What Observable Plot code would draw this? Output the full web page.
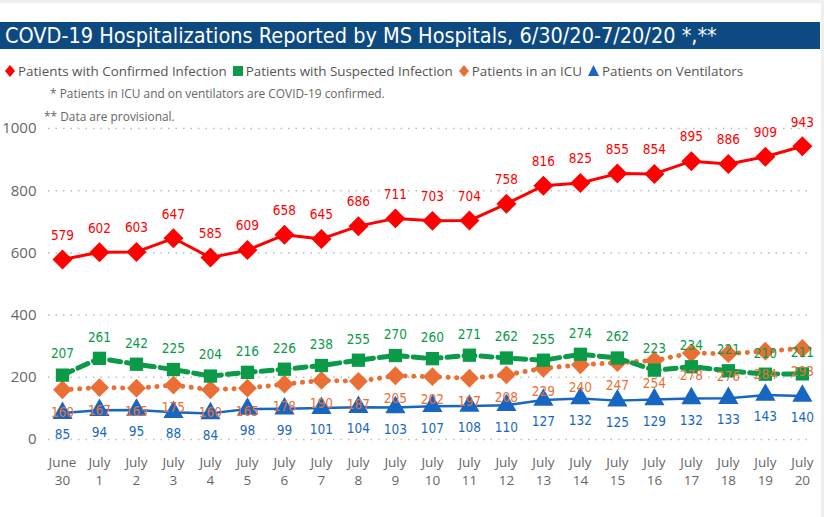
<!DOCTYPE html>
<html>
<head>
<meta charset="utf-8">
<script src="https://cdn.jsdelivr.net/npm/d3@7"></script>
<script src="https://cdn.jsdelivr.net/npm/@observablehq/plot@0.6"></script>
<style>
  body { margin: 0; background: #fff; }
  #wrap { position: relative; width: 824px; height: 517px; overflow: hidden; background: #fff; }
  #topstripe { position: absolute; left: 0; top: 0; width: 824px; height: 3px; background: #efefef; }
  #rightstripe { position: absolute; right: 0; top: 0; width: 3px; height: 517px; background: #efefef; }
  #title { position: absolute; left: 0; top: 22px; width: 820px; height: 27px; background: #0d4a82;
           color: #fff; font-family: "DejaVu Sans Condensed", "DejaVu Sans", sans-serif; font-size: 21.5px;
           line-height: 27px; padding-left: 5px; box-sizing: border-box; white-space: nowrap; }
  #legend { position: absolute; left: 4px; top: 62px; font-family: "Open Sans", sans-serif; font-size: 13.4px;
            color: #555; white-space: nowrap; display: flex; align-items: center; }
  .item { display: flex; align-items: center; margin-right: 5px; }
  .item svg { margin-right: 2px; }
  .note { position: absolute; font-family: "Open Sans", sans-serif; font-size: 11.9px; color: #666; white-space: nowrap; }
  #chart { position: absolute; left: 0; top: 100px; }
</style>
</head>
<body>
<div id="wrap">
  <div id="topstripe"></div>
  <div id="rightstripe"></div>
  <div id="title">COVD-19 Hospitalizations Reported by MS Hospitals, 6/30/20-7/20/20 *,**</div>
  <div id="legend"></div>
  <div class="note" style="left:50px; top:85px;">* Patients in ICU and on ventilators are COVID-19 confirmed.</div>
  <div class="note" style="left:44px; top:108px;">** Data are provisional.</div>
  <div id="chart"></div>
</div>
<script>
const dates = ["June\n30","July\n1","July\n2","July\n3","July\n4","July\n5","July\n6","July\n7","July\n8","July\n9","July\n10",
               "July\n11","July\n12","July\n13","July\n14","July\n15","July\n16","July\n17","July\n18","July\n19","July\n20"];
const confirmed = [579,602,603,647,585,609,658,645,686,711,703,704,758,816,825,855,854,895,886,909,943];
const suspected = [207,261,242,225,204,216,226,238,255,270,260,271,262,255,274,262,223,234,221,210,211];
const icu       = [160,167,165,175,160,165,178,190,187,205,202,197,208,229,240,247,254,278,276,284,293];
const vent      = [85,94,95,88,84,98,99,101,104,103,107,108,110,127,132,125,129,132,133,143,140];
const yTicks = [0,200,400,600,800,1000];

const seriesNames = ["Patients with Confirmed Infection","Patients with Suspected Infection","Patients in an ICU","Patients on Ventilators"];
const colors = ["#ff0000","#0a9a48","#ea6f34","#1766c2"];

const toRows = vals => vals.map((v, i) => ({i, v}));
const rConf = toRows(confirmed), rSusp = toRows(suspected), rIcu = toRows(icu), rVent = toRows(vent);

// Legend
const legend = document.getElementById("legend");
const legendSym = [
  '<svg width="12" height="14"><path d="M6 1 L11 7 L6 13 L1 7 Z" fill="#ff0000"/></svg>',
  '<svg width="12" height="14"><rect x="1" y="2" width="10" height="10" fill="#0a9a48"/></svg>',
  '<svg width="12" height="14"><path d="M6 1 L11 7 L6 13 L1 7 Z" fill="#ea6f34"/></svg>',
  '<svg width="13" height="14"><path d="M6.5 1 L12 12 L1 12 Z" fill="#1766c2"/></svg>'
];
seriesNames.forEach((n, k) => {
  const d = document.createElement("div");
  d.className = "item";
  d.innerHTML = legendSym[k] + "<span>" + n + "</span>";
  legend.appendChild(d);
});

const labelFont = '"DejaVu Sans Condensed", "DejaVu Sans", sans-serif';

const chart = Plot.plot({
  width: 824,
  height: 417,
  marginLeft: 48,
  marginRight: 14,
  marginTop: 28,
  marginBottom: 78,
  style: { background: "transparent", overflow: "visible" },
  x: { domain: [-0.378, 20.22], axis: null },
  y: { domain: [0, 1000], axis: null },
  marks: [
    Plot.gridY(yTicks, { stroke: "#bbb", strokeOpacity: 1, strokeDasharray: "1.5,6", strokeWidth: 1.5 }),
    Plot.text(yTicks, { x: -0.378, y: d => d, text: d => String(d), textAnchor: "end", dx: -12,
      fill: "#666", fontSize: 15, fontFamily: '"Open Sans", sans-serif' }),
    Plot.text(dates, { x: (d, i) => i, y: 0, text: d => d, dy: 31, lineHeight: 1.3,
      fill: "#666", fontSize: 13.5, fontFamily: '"Open Sans", sans-serif' }),

    // Ventilators
    Plot.line(rVent, { x: "i", y: "v", stroke: colors[3], strokeWidth: 2.5 }),
    Plot.dot(rVent, { x: "i", y: "v", symbol: "triangle", r: 7.5, fill: colors[3], stroke: "none" }),
    // ICU
    Plot.line(rIcu, { x: "i", y: "v", stroke: colors[2], strokeWidth: 5, strokeDasharray: "0.1,8.5", strokeLinecap: "round" }),
    Plot.dot(rIcu, { x: "i", y: "v", symbol: "diamond2", r: 8.5, fill: colors[2], stroke: "none" }),
    // Suspected
    Plot.line(rSusp, { x: "i", y: "v", stroke: colors[1], strokeWidth: 5, strokeDasharray: "11,6" }),
    Plot.dot(rSusp, { x: "i", y: "v", symbol: "square", r: 7.5, fill: colors[1], stroke: "none" }),
    // Confirmed
    Plot.line(rConf, { x: "i", y: "v", stroke: colors[0], strokeWidth: 3 }),
    Plot.dot(rConf, { x: "i", y: "v", symbol: "diamond2", r: 9, fill: colors[0], stroke: "none" }),

    // Labels
    Plot.text(rConf, { x: "i", y: "v", text: "v", dy: -24, fill: colors[0], fontSize: 13.5, fontFamily: labelFont }),
    Plot.text(rSusp, { x: "i", y: "v", text: "v", dy: -21, fill: colors[1], fontSize: 13.5, fontFamily: labelFont }),
    Plot.text(rIcu, { x: "i", y: "v", text: "v", dy: 23, fill: colors[2], fontSize: 13.5, fontFamily: labelFont }),
    Plot.text(rVent, { x: "i", y: "v", text: "v", dy: 22, fill: colors[3], fontSize: 13.5, fontFamily: labelFont })
  ]
});
document.getElementById("chart").appendChild(chart);
</script>
</body>
</html>
